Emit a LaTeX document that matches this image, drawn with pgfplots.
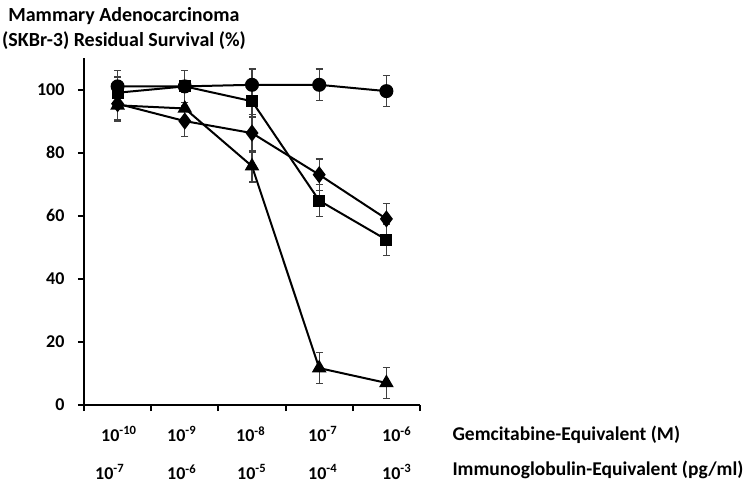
\documentclass[border=0pt]{standalone}
\usepackage{pgfplots}
\pgfplotsset{compat=1.18}
\usepackage{fontspec}
\setmainfont{Carlito}
\pgfplotsset{ser/.style={black, line width=2pt, mark options={solid,fill=black},
    error bars/y dir=both, error bars/y explicit,
    error bars/error bar style={line width=1.2pt, black!75},
    error bars/error mark options={rotate=90, mark size=3.5pt, line width=1.2pt, black!75}}}
\begin{document}
\begin{tikzpicture}
\useasboundingbox (0,0) rectangle (750pt,-490pt);
\node[align=center,font=\bfseries\fontsize{20}{25}\selectfont] at (124pt,-28pt) {Mammary Adenocarcinoma\\(SKBr-3) Residual Survival (\%)};
\node[anchor=west,font=\bfseries\fontsize{19.5}{20}\selectfont] at (449pt,-435pt) {Gemcitabine-Equivalent (M)};
\node[anchor=west,font=\bfseries\fontsize{19.5}{20}\selectfont] at (449pt,-470pt) {Immunoglobulin-Equivalent (pg/ml)};
\begin{scope}[font=\bfseries\fontsize{18}{18}\selectfont, inner sep=0pt]
\node[anchor=west] at (101pt,-434pt) {10\textsuperscript{-10}};
\node[anchor=west] at (167pt,-434pt) {10\textsuperscript{-9}};
\node[anchor=west] at (236pt,-434pt) {10\textsuperscript{-8}};
\node[anchor=west] at (308pt,-434pt) {10\textsuperscript{-7}};
\node[anchor=west] at (382pt,-434pt) {10\textsuperscript{-6}};
\node[anchor=west] at (95pt,-472pt) {10\textsuperscript{-7}};
\node[anchor=west] at (167pt,-472pt) {10\textsuperscript{-6}};
\node[anchor=west] at (237pt,-472pt) {10\textsuperscript{-5}};
\node[anchor=west] at (308pt,-472pt) {10\textsuperscript{-4}};
\node[anchor=west] at (382pt,-472pt) {10\textsuperscript{-3}};
\end{scope}
\begin{axis}[at={(84pt,-405pt)}, anchor=south west, scale only axis,
  width=336pt, height=347pt,
  xmin=0, xmax=5, ymin=0, ymax=110,
  axis x line*=bottom, axis y line*=left,
  axis line style={line width=2pt, -},
  xtick={0,...,5}, xticklabels={},
  ytick={0,20,...,100},
  tick style={line width=2pt, black}, major tick length=6pt, tick align=outside,
  yticklabel style={font=\bfseries\fontsize{18}{18}\selectfont, xshift=-10pt},
  /pgf/number format/assume math mode=true,
  clip=false,
  ]
\addplot[ser, mark=*, mark size=6pt] coordinates {
 (0.5,101) +- (0,5) (1.5,101) +- (0,5) (2.5,101.5) +- (0,5) (3.5,101.5) +- (0,5) (4.5,99.5) +- (0,5)};
\addplot[ser, mark=square*, mark size=5pt] coordinates {
 (0.5,99) +- (0,5) (1.5,101) +- (0,5) (2.5,96.3) +- (0,5) (3.5,64.8) +- (0,5) (4.5,52.4) +- (0,5)};
\addplot[ser, mark=diamond*, mark size=7pt] coordinates {
 (0.5,95.5) +- (0,5) (1.5,90) +- (0,5) (2.5,86.2) +- (0,6) (3.5,73) +- (0,5) (4.5,59) +- (0,5)};
\addplot[ser, mark=triangle*, mark size=6.5pt] coordinates {
 (0.5,95) +- (0,5) (1.5,94) +- (0,5) (2.5,75.7) +- (0,5) (3.5,11.7) +- (0,5) (4.5,7) +- (0,5)};
\end{axis}
\end{tikzpicture}
\end{document}
